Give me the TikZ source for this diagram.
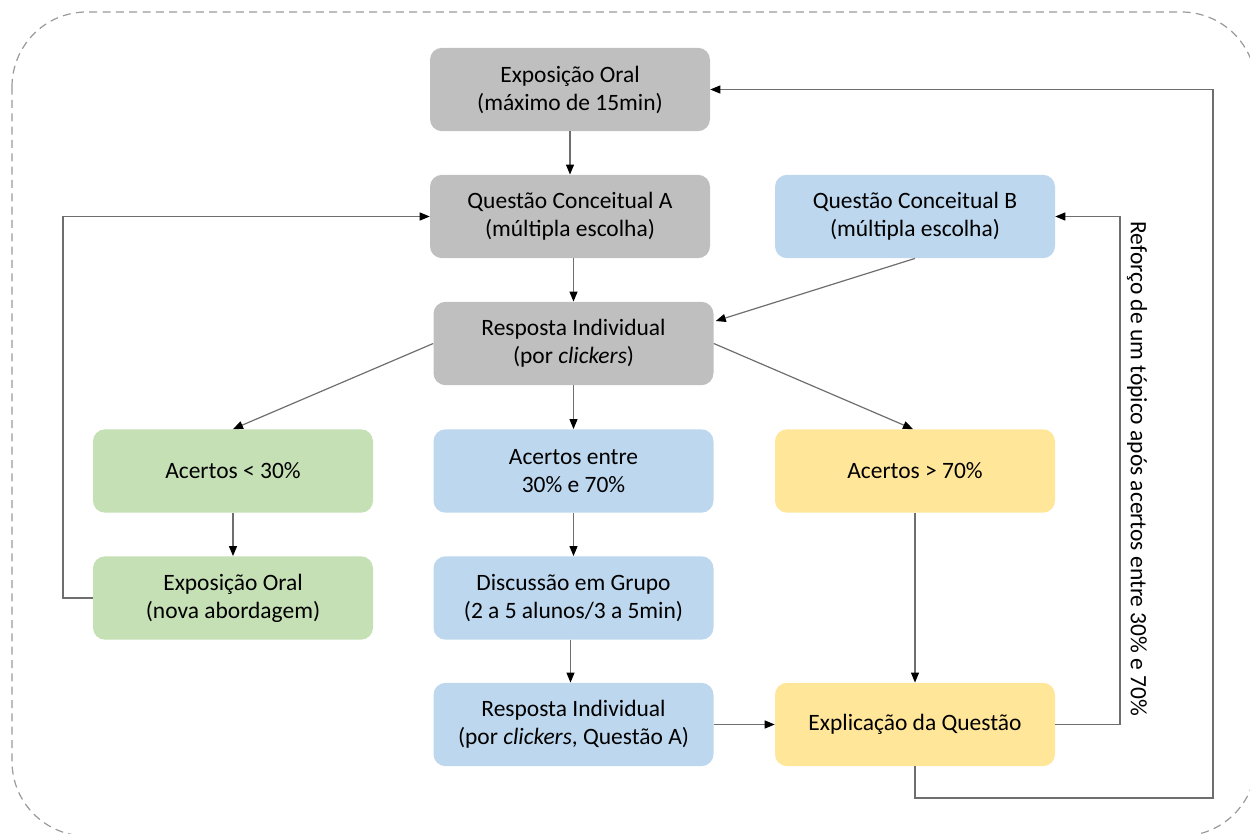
\documentclass[tikz,border=0pt]{standalone}
\usepackage{fontspec}
\setmainfont{Carlito}
\usetikzlibrary{arrows.meta,calc}
\definecolor{boxgray}{HTML}{BFBFBF}
\definecolor{boxblue}{HTML}{BDD7EE}
\definecolor{boxgreen}{HTML}{C5E0B4}
\definecolor{boxyellow}{HTML}{FFE699}
\definecolor{linegray}{HTML}{6E6E6E}
\definecolor{dashgray}{HTML}{9A9A9A}
\tikzset{
  box/.style={rectangle, rounded corners=9pt, minimum width=210pt, minimum height=62.5pt,
    align=center, font=\fontsize{17.6}{21}\selectfont, inner sep=0pt},
  gbox/.style={box, fill=boxgray},
  bbox/.style={box, fill=boxblue},
  grbox/.style={box, fill=boxgreen},
  ybox/.style={box, fill=boxyellow},
  conn/.style={draw=linegray, line width=0.9pt, -{Triangle[length=7.5pt,width=6pt,fill=black,color=black]}},
  plain/.style={draw=linegray, line width=0.9pt},
}
\begin{document}
\begin{tikzpicture}[x=0.75pt,y=-0.75pt]
\useasboundingbox (0,0) rectangle (1250,834);
\begin{scope}
\clip (0,0) rectangle (1250,834);
\draw[dashgray, line width=0.9pt, dash pattern=on 6pt off 4pt, rounded corners=56pt] (12,12) rectangle (1256,836);
\end{scope}

\node[gbox] (eo) at (570,89.5) {Exposição Oral\\(máximo de 15min)};
\node[gbox] (qa) at (570,216.5) {Questão Conceitual A\\(múltipla escolha)};
\node[bbox] (qb) at (915,216.5) {Questão Conceitual B\\(múltipla escolha)};
\node[gbox] (r1) at (573.5,343.5) {Resposta Individual\\(por \textit{clickers})};
\node[grbox] (a30) at (233,471) {Acertos < 30\%};
\node[bbox] (aent) at (573.5,471) {Acertos entre\\30\% e 70\%};
\node[ybox] (a70) at (915,471) {Acertos > 70\%};
\node[grbox] (eon) at (233,598) {Exposição Oral\\(nova abordagem)};
\node[bbox] (dg) at (573.5,598) {Discussão em Grupo\\(2 a 5 alunos/3 a 5min)};
\node[bbox] (r2) at (573.5,724.5) {Resposta Individual\\(por \textit{clickers}, Questão A)};
\node[ybox] (ex) at (915,724.5) {Explicação da Questão};

\coordinate (lA) at (63,216.5);
\coordinate (lB) at (1120,216.5);
\coordinate (lC) at (1213,798);
\coordinate (lD) at (1213,89.5);

\draw[conn] (eo.south) -- (qa.north);
\draw[conn] (r1.north |- qa.south) -- (r1.north);
\draw[conn] (qb.south) -- ($(r1.east)+(2,-22.5)$);
\draw[conn] (r1.west) -- (a30.north);
\draw[conn] (r1.south) -- (aent.north);
\draw[conn] (r1.east) -- ($(a70.north)+(-2,0)$);
\draw[conn] (a30.south) -- (eon.north);
\draw[conn] (aent.south) -- (dg.north);
\draw[conn] ($(dg.south)+(-3,0)$) -- ($(r2.north)+(-3,0)$);
\draw[conn] (a70.south) -- (ex.north);
\draw[conn] (r2.east) -- (ex.west);
\draw[conn] (eon.west) -| (lA) -- (qa.west);
\draw[conn] (ex.east) -| (lB) -- (qb.east);
\draw[conn] (ex.south) |- (lC) -- (lD) -- (eo.east);

\node[rotate=-90, font=\fontsize{17.6}{21}\selectfont, inner sep=0pt] (lbl) at (1137,469) {Reforço de um tópico após acertos entre 30\% e 70\%};
\end{tikzpicture}
\end{document}
